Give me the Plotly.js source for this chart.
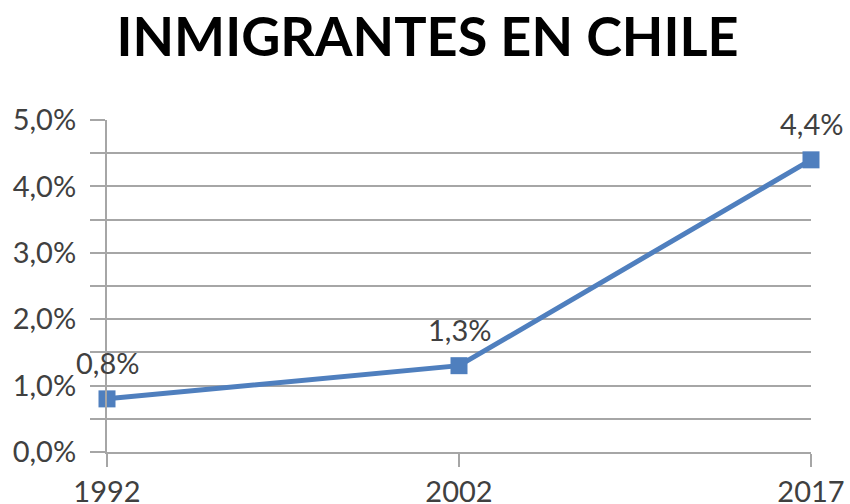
<!DOCTYPE html>
<html>
<head>
<meta charset="utf-8">
<script src="https://cdn.plot.ly/plotly-3.0.1.min.js"></script>
<style>html,body{margin:0;padding:0;background:#fff;}</style>
</head>
<body>
<div id="chart" style="width:850px;height:504px;"></div>
<script>
const years = ['1992', '2002', '2017'];
const share = [0.8, 1.3, 4.4];
const yTickVals = [0, 1, 2, 3, 4, 5];
const yTickText = ['0,0%', '1,0%', '2,0%', '3,0%', '4,0%', '5,0%'];
const chartTitle = 'INMIGRANTES EN CHILE';

const fmt = v => v.toFixed(1).replace('.', ',') + '%';
const gridColor = '#a6a6a6';
const font = 'Lato, Carlito, "Open Sans", sans-serif';

const trace = {
  x: years,
  y: share,
  type: 'scatter',
  mode: 'lines+markers',
  line: {color: '#4f7fbe', width: 5},
  marker: {symbol: 'square', size: 17, color: '#4f7fbe'},
  hoverinfo: 'skip',
  cliponaxis: false
};

const annotations = years.map((yr, i) => ({
  x: i, y: share[i], xref: 'x', yref: 'y',
  text: fmt(share[i]), showarrow: false,
  xanchor: 'center', yanchor: 'middle',
  yshift: 36, font: {family: font, size: 29, color: '#404040'}
}));

const layout = {
  width: 850, height: 504,
  margin: {l: 107, r: 39, t: 120, b: 52},
  paper_bgcolor: '#fff', plot_bgcolor: '#fff',
  showlegend: false,
  title: {
    text: '<b>' + chartTitle + '</b>',
    font: {family: font, size: 54, color: '#000'},
    x: 0.503, xanchor: 'center',
    y: 0.927, yanchor: 'middle', yref: 'container'
  },
  xaxis: {
    type: 'category', range: [0, 2],
    showgrid: false, zeroline: false,
    showline: true, linecolor: gridColor, linewidth: 2,
    ticks: 'outside', ticklen: 13, tickwidth: 2, tickcolor: gridColor,
    tickfont: {family: font, size: 29, color: '#404040'},
    fixedrange: true
  },
  yaxis: {
    range: [0, 5],
    tickvals: yTickVals, ticktext: yTickText,
    showgrid: true, gridcolor: gridColor, gridwidth: 2,
    zeroline: false,
    showline: true, linecolor: gridColor, linewidth: 2,
    ticks: 'outside', ticklen: 15, tickwidth: 2, tickcolor: gridColor,
    ticklabelstandoff: 8,
    minor: {dtick: 0.5, showgrid: true, gridcolor: gridColor, gridwidth: 2,
            ticks: 'outside', ticklen: 15, tickwidth: 2, tickcolor: gridColor},
    tickfont: {family: font, size: 29, color: '#404040'},
    fixedrange: true
  },
  annotations: annotations
};

Plotly.newPlot('chart', [trace], layout, {displayModeBar: false, staticPlot: true});
</script>
</body>
</html>
